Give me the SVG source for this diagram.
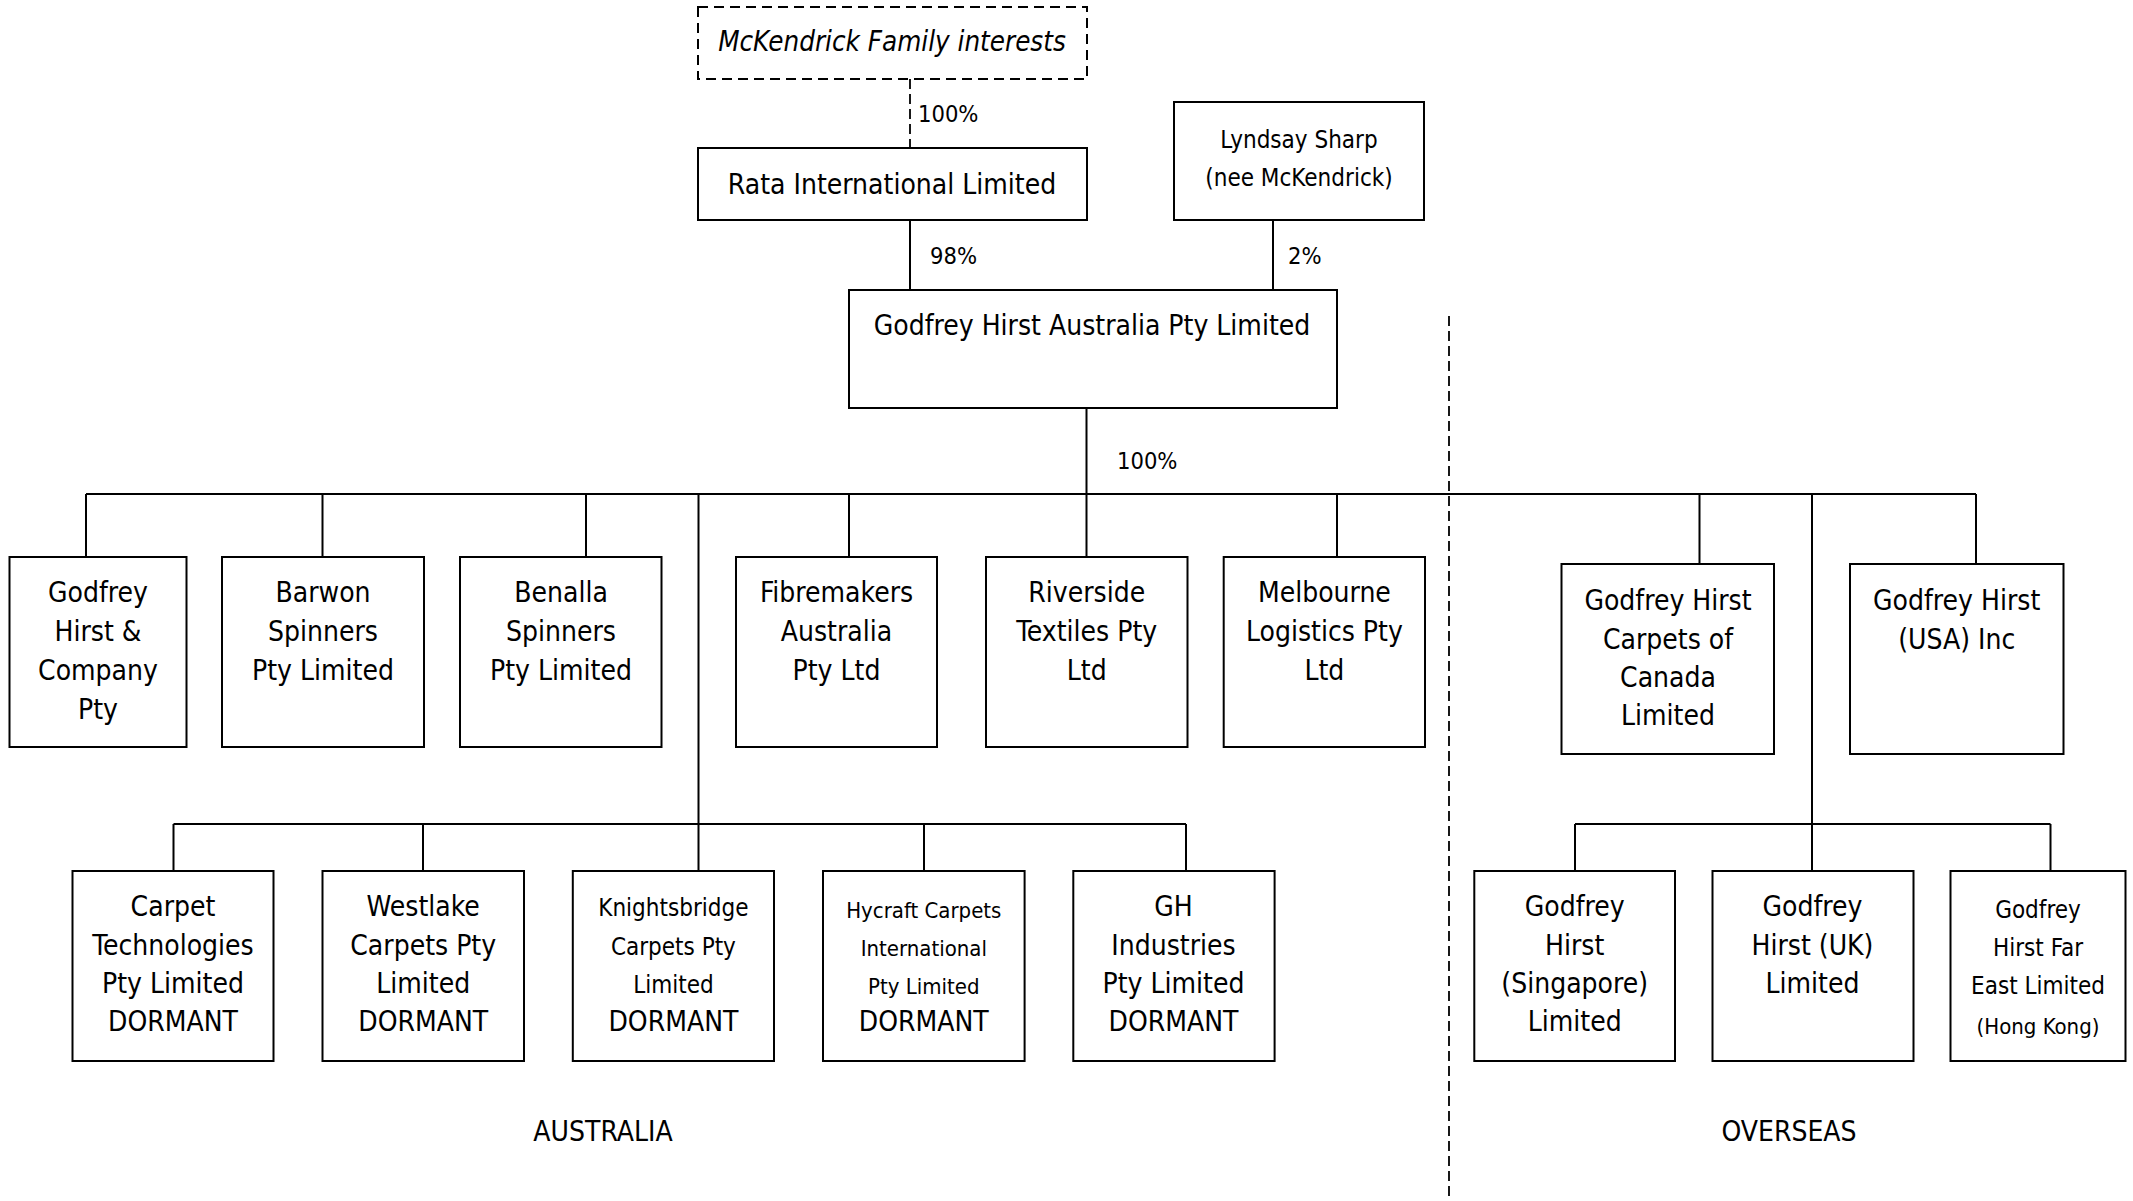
<svg xmlns="http://www.w3.org/2000/svg" width="2133" height="1201" viewBox="0 0 2133 1201">
<style>
text{font-family:"DejaVu Sans Condensed","DejaVu Sans",sans-serif;fill:#000;text-anchor:middle}
.t{font-size:28px}
.s{font-size:24px}
.xs{font-size:22px}
.p{font-size:23.5px;text-anchor:start}
.it{font-style:italic;font-size:27.5px}
.box{fill:#fff;stroke:#000;stroke-width:2}
.dbox{fill:#fff;stroke:#000;stroke-width:2;stroke-dasharray:10 6}
.ln{stroke:#000;stroke-width:2;fill:none}
.dl{stroke:#000;stroke-width:1.8;fill:none;stroke-dasharray:10 5}
</style>
<rect width="2133" height="1201" fill="#fff"/>
<g id="connectors">
<path class="dl" d="M910 79V148"/>
<path class="ln" d="M910 220V290M1273 220V290"/>
<path class="ln" d="M1086.5 408V557M86 494H1976"/>
<path class="ln" d="M86 494V557M322.5 494V557M586 494V557M849 494V557M1337 494V557"/>
<path class="ln" d="M1699.5 494V564M1976 494V564"/>
<path class="ln" d="M698.5 494V871M173.5 824H1186M173.5 824V871M423 824V871M924 824V871M1186 824V871"/>
<path class="ln" d="M1812 494V871M1575 824H2050.5M1575 824V871M2050.5 824V871"/>
<path class="dl" d="M1449 316V1201"/>
</g>
<g id="labels">
<text class="p" x="918" y="122">100%</text>
<text class="p" x="930" y="264">98%</text>
<text class="p" x="1288" y="264">2%</text>
<text class="p" x="1117" y="469">100%</text>
<text class="t" x="603" y="1141">AUSTRALIA</text>
<text class="t" x="1789" y="1141">OVERSEAS</text>
</g>
<g id="mckendrick">
<rect class="dbox" x="698" y="7" width="389" height="72"/>
<text class="it" x="892" y="51">McKendrick Family interests</text>
</g>
<g id="rata">
<rect class="box" x="698" y="148" width="389" height="72"/>
<text class="t" x="892" y="194">Rata International Limited</text>
</g>
<g id="lyndsay">
<rect class="box" x="1174" y="102" width="250" height="118"/>
<text class="s" x="1299" y="148">Lyndsay Sharp</text>
<text class="s" x="1299" y="186">(nee McKendrick)</text>
</g>
<g id="gha">
<rect class="box" x="849" y="290" width="488" height="118"/>
<text class="t" x="1092" y="335">Godfrey Hirst Australia Pty Limited</text>
</g>
<g id="gh-company">
<rect class="box" x="9.5" y="557" width="177" height="190"/>
<text class="t" x="98" y="602">Godfrey</text>
<text class="t" x="98" y="641">Hirst &amp;</text>
<text class="t" x="98" y="680">Company</text>
<text class="t" x="98" y="719">Pty</text>
</g>
<g id="barwon">
<rect class="box" x="222" y="557" width="202" height="190"/>
<text class="t" x="323" y="602">Barwon</text>
<text class="t" x="323" y="641">Spinners</text>
<text class="t" x="323" y="680">Pty Limited</text>
</g>
<g id="benalla">
<rect class="box" x="460" y="557" width="201.5" height="190"/>
<text class="t" x="561" y="602">Benalla</text>
<text class="t" x="561" y="641">Spinners</text>
<text class="t" x="561" y="680">Pty Limited</text>
</g>
<g id="fibremakers">
<rect class="box" x="736" y="557" width="201" height="190"/>
<text class="t" x="836.5" y="602">Fibremakers</text>
<text class="t" x="836.5" y="641">Australia</text>
<text class="t" x="836.5" y="680">Pty Ltd</text>
</g>
<g id="riverside">
<rect class="box" x="986" y="557" width="201.5" height="190"/>
<text class="t" x="1086.7" y="602">Riverside</text>
<text class="t" x="1086.7" y="641">Textiles Pty</text>
<text class="t" x="1086.7" y="680">Ltd</text>
</g>
<g id="melbourne">
<rect class="box" x="1223.7" y="557" width="201.3" height="190"/>
<text class="t" x="1324.4" y="602">Melbourne</text>
<text class="t" x="1324.4" y="641">Logistics Pty</text>
<text class="t" x="1324.4" y="680">Ltd</text>
</g>
<g id="canada">
<rect class="box" x="1561.5" y="564" width="212.5" height="190"/>
<text class="t" x="1668" y="610">Godfrey Hirst</text>
<text class="t" x="1668" y="649">Carpets of</text>
<text class="t" x="1668" y="687">Canada</text>
<text class="t" x="1668" y="725">Limited</text>
</g>
<g id="usa">
<rect class="box" x="1850" y="564" width="213.5" height="190"/>
<text class="t" x="1956.7" y="610">Godfrey Hirst</text>
<text class="t" x="1956.7" y="649">(USA) Inc</text>
</g>
<g id="carpet-tech">
<rect class="box" x="72.5" y="871" width="201" height="190"/>
<text class="t" x="173" y="916">Carpet</text>
<text class="t" x="173" y="955">Technologies</text>
<text class="t" x="173" y="993">Pty Limited</text>
<text class="t" x="173" y="1031">DORMANT</text>
</g>
<g id="westlake">
<rect class="box" x="322.5" y="871" width="201.5" height="190"/>
<text class="t" x="423.2" y="916">Westlake</text>
<text class="t" x="423.2" y="955">Carpets Pty</text>
<text class="t" x="423.2" y="993">Limited</text>
<text class="t" x="423.2" y="1031">DORMANT</text>
</g>
<g id="knightsbridge">
<rect class="box" x="572.8" y="871" width="201.2" height="190"/>
<text class="s" x="673.4" y="916">Knightsbridge</text>
<text class="s" x="673.4" y="955">Carpets Pty</text>
<text class="s" x="673.4" y="993">Limited</text>
<text class="t" x="673.4" y="1031">DORMANT</text>
</g>
<g id="hycraft">
<rect class="box" x="823" y="871" width="201.6" height="190"/>
<text class="xs" x="923.8" y="918">Hycraft Carpets</text>
<text class="xs" x="923.8" y="956">International</text>
<text class="xs" x="923.8" y="994">Pty Limited</text>
<text class="t" x="923.8" y="1031">DORMANT</text>
</g>
<g id="gh-industries">
<rect class="box" x="1073.3" y="871" width="201.3" height="190"/>
<text class="t" x="1173.5" y="916">GH</text>
<text class="t" x="1173.5" y="955">Industries</text>
<text class="t" x="1173.5" y="993">Pty Limited</text>
<text class="t" x="1173.5" y="1031">DORMANT</text>
</g>
<g id="singapore">
<rect class="box" x="1474.3" y="871" width="200.7" height="190"/>
<text class="t" x="1574.7" y="916">Godfrey</text>
<text class="t" x="1574.7" y="955">Hirst</text>
<text class="t" x="1574.7" y="993">(Singapore)</text>
<text class="t" x="1574.7" y="1031">Limited</text>
</g>
<g id="uk">
<rect class="box" x="1712.5" y="871" width="201" height="190"/>
<text class="t" x="1812.5" y="916">Godfrey</text>
<text class="t" x="1812.5" y="955">Hirst (UK)</text>
<text class="t" x="1812.5" y="993">Limited</text>
</g>
<g id="hongkong">
<rect class="box" x="1950.5" y="871" width="175" height="190"/>
<text class="s" x="2038" y="918">Godfrey</text>
<text class="s" x="2038" y="956">Hirst Far</text>
<text class="s" x="2038" y="994">East Limited</text>
<text class="xs" x="2038" y="1034">(Hong Kong)</text>
</g>
</svg>
